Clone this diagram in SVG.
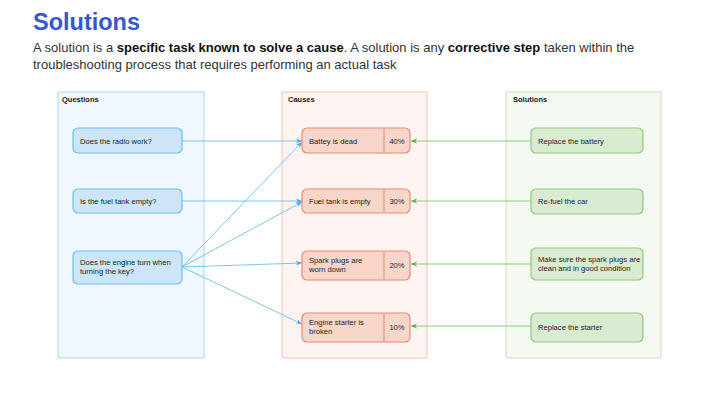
<svg xmlns="http://www.w3.org/2000/svg" width="720" height="405" viewBox="0 0 720 405">
<style>
text{font-family:"Liberation Sans",Arial,sans-serif;}
.title{font-size:23.5px;font-weight:bold;fill:#3558cc;}
.sub{font-size:13px;fill:#333333;}
.sub tspan.b{font-weight:bold;fill:#111111;}
.lane{font-size:7.5px;font-weight:bold;fill:#222222;}
.t{font-size:7.6px;fill:#222222;}
.qc{fill:#f1f8fd;stroke:#a9d8f3;stroke-width:1;}
.cc{fill:#fdf3f0;stroke:#f7c3b6;stroke-width:1;}
.sc{fill:#f4f9f1;stroke:#cce4c1;stroke-width:1;}
.qn{fill:#cde6f7;stroke:#70bdec;stroke-width:1.2;}
.cn{fill:#f8d6c9;stroke:#e68c75;stroke-width:1.2;}
.sn{fill:#d9ebd1;stroke:#90c97d;stroke-width:1.2;}
.bl{stroke:#6cbfee;stroke-width:0.9;fill:none;}
.gl{stroke:#7dc86c;stroke-width:0.9;fill:none;}
</style>
<defs>
<marker id="ab" viewBox="0 0 10 10" refX="10" refY="5" markerWidth="6" markerHeight="6" orient="auto" markerUnits="userSpaceOnUse">
<path d="M0,1 L10,5 L0,9 L3,5 Z" fill="#3fa9ea"/>
</marker>
<marker id="ag" viewBox="0 0 10 10" refX="10" refY="5" markerWidth="6" markerHeight="6" orient="auto" markerUnits="userSpaceOnUse">
<path d="M0,1 L10,5 L0,9 L3,5 Z" fill="#4fb33f"/>
</marker>
</defs>
<rect width="720" height="405" fill="#ffffff"/>
<text class="title" x="33" y="30">Solutions</text>
<text class="sub" x="33" y="52">A solution is a <tspan class="b">specific task known to solve a cause</tspan>. A solution is any <tspan class="b">corrective step</tspan> taken within the</text>
<text class="sub" x="33" y="69">troubleshooting process that requires performing an actual task</text>

<g id="lane-questions">
<rect class="qc" x="58" y="92" width="146" height="266"/>
<text class="lane" x="62" y="101.5">Questions</text>
</g>
<g id="lane-causes">
<rect class="cc" x="282" y="92" width="145" height="266"/>
<text class="lane" x="288" y="101.5">Causes</text>
</g>
<g id="lane-solutions">
<rect class="sc" x="506" y="92" width="155" height="266"/>
<text class="lane" x="513" y="101.5">Solutions</text>
</g>

<g id="connectors">
<line class="bl" x1="182" y1="141" x2="302" y2="141" marker-end="url(#ab)"/>
<line class="bl" x1="182" y1="201" x2="302" y2="201" marker-end="url(#ab)"/>
<line class="bl" x1="182" y1="267" x2="302" y2="142" marker-end="url(#ab)"/>
<line class="bl" x1="182" y1="267" x2="302" y2="202" marker-end="url(#ab)"/>
<line class="bl" x1="182" y1="267" x2="302" y2="263" marker-end="url(#ab)"/>
<line class="bl" x1="182" y1="267" x2="302" y2="324" marker-end="url(#ab)"/>
<line class="gl" x1="531" y1="141" x2="411" y2="141" marker-end="url(#ag)"/>
<line class="gl" x1="531" y1="201" x2="411" y2="201" marker-end="url(#ag)"/>
<line class="gl" x1="531" y1="264" x2="411" y2="264" marker-end="url(#ag)"/>
<line class="gl" x1="531" y1="326" x2="411" y2="326" marker-end="url(#ag)"/>
</g>

<g id="q1"><rect class="qn" x="73" y="128" width="109" height="25" rx="5"/><text class="t" x="80" y="143.5">Does the radio work?</text></g>
<g id="q2"><rect class="qn" x="73" y="189" width="109" height="24" rx="5"/><text class="t" x="80" y="203.5">Is the fuel tank empty?</text></g>
<g id="q3"><rect class="qn" x="73" y="251" width="109" height="33" rx="5"/><text class="t" x="80" y="265">Does the engine turn when</text><text class="t" x="80" y="274">turning the key?</text></g>

<g id="c1"><rect class="cn" x="302" y="128" width="108" height="25" rx="5"/><line x1="384" y1="128" x2="384" y2="153" stroke="#e68c75" stroke-width="1"/><text class="t" x="309" y="143.5">Battey is dead</text><text class="t" x="397" y="143.5" text-anchor="middle">40%</text></g>
<g id="c2"><rect class="cn" x="302" y="189" width="108" height="24" rx="5"/><line x1="384" y1="189" x2="384" y2="213" stroke="#e68c75" stroke-width="1"/><text class="t" x="309" y="203.5">Fuel tank is empty</text><text class="t" x="397" y="203.5" text-anchor="middle">30%</text></g>
<g id="c3"><rect class="cn" x="302" y="251" width="108" height="29" rx="5"/><line x1="384" y1="251" x2="384" y2="280" stroke="#e68c75" stroke-width="1"/><text class="t" x="309" y="263">Spark plugs are</text><text class="t" x="309" y="272">worn down</text><text class="t" x="397" y="268" text-anchor="middle">20%</text></g>
<g id="c4"><rect class="cn" x="302" y="313" width="108" height="29" rx="5"/><line x1="384" y1="313" x2="384" y2="342" stroke="#e68c75" stroke-width="1"/><text class="t" x="309" y="325">Engine starter is</text><text class="t" x="309" y="334">broken</text><text class="t" x="397" y="330" text-anchor="middle">10%</text></g>

<g id="s1"><rect class="sn" x="531" y="128" width="112" height="25" rx="5"/><text class="t" x="538" y="143.5">Replace the battery</text></g>
<g id="s2"><rect class="sn" x="531" y="189" width="112" height="25" rx="5"/><text class="t" x="538" y="204">Re-fuel the car</text></g>
<g id="s3"><rect class="sn" x="531" y="248" width="112" height="32" rx="5"/><text class="t" x="538" y="262">Make sure the spark plugs are</text><text class="t" x="538" y="271">clean and in good condition</text></g>
<g id="s4"><rect class="sn" x="531" y="313" width="112" height="29" rx="5"/><text class="t" x="538" y="329.5">Replace the starter</text></g>
</svg>
